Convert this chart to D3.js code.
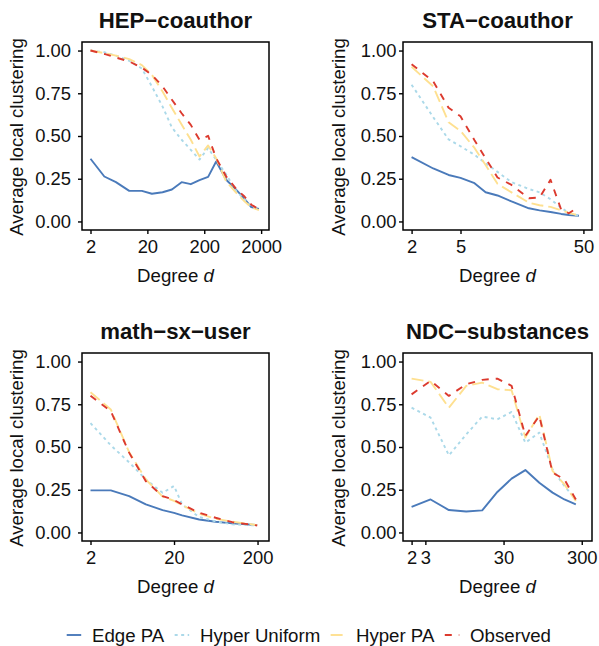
<!DOCTYPE html>
<html>
<head>
<meta charset="utf-8">
<script src="https://cdn.jsdelivr.net/npm/d3@7"></script>
<style>
  body { margin: 0; background: #fff; }
  text { font-family: "Liberation Sans", Arial, sans-serif; fill: #111; }
</style>
</head>
<body>
<div id="vis"></div>
<script>
var panelTitles = ["HEP\u2212coauthor", "STA\u2212coauthor", "math\u2212sx\u2212user", "NDC\u2212substances"];
var seriesNames = ["Edge PA", "Hyper Uniform", "Hyper PA", "Observed"];
var yTicks = [0, 0.25, 0.5, 0.75, 1];

// HEP-coauthor
var hepDegree = [2, 3.5, 5.6, 9.6, 16, 24, 37, 54, 80, 116, 165, 234, 324, 487, 731, 1020, 1342, 1830];
var hepEdgePA = [0.367, 0.263, 0.230, 0.179, 0.179, 0.162, 0.171, 0.187, 0.230, 0.218, 0.242, 0.261, 0.351, 0.244, 0.185, 0.133, 0.084, 0.074];
var hepHyperUniform = [1.0, 0.99, 0.97, 0.94, 0.895, 0.79, 0.672, 0.55, 0.478, 0.419, 0.362, 0.43, 0.36, 0.275, 0.177, 0.13, 0.088, 0.068];
var hepHyperPA = [1.0, 0.985, 0.97, 0.95, 0.915, 0.858, 0.76, 0.664, 0.567, 0.478, 0.38, 0.445, 0.37, 0.234, 0.167, 0.118, 0.083, 0.066];
var hepObserved = [1.0, 0.98, 0.959, 0.936, 0.90, 0.858, 0.79, 0.712, 0.633, 0.565, 0.478, 0.501, 0.37, 0.263, 0.19, 0.146, 0.098, 0.072];
var hepXlim = [2, 1950];
var hepXTicks = [2, 20, 200, 2000];

// STA-coauthor
var staDegree = [2, 3, 4, 5, 6.5, 8, 10, 13, 18, 22, 27, 33, 38, 46];
var staEdgePA = [0.376, 0.31, 0.272, 0.255, 0.224, 0.171, 0.152, 0.117, 0.077, 0.065, 0.055, 0.044, 0.038, 0.033];
var staHyperUniform = [0.80, 0.61, 0.48, 0.44, 0.39, 0.34, 0.29, 0.23, 0.19, 0.17, 0.13, 0.08, 0.05, 0.033];
var staHyperPA = [0.905, 0.79, 0.58, 0.53, 0.43, 0.33, 0.22, 0.17, 0.11, 0.095, 0.085, 0.065, 0.05, 0.035];
var staObserved = [0.92, 0.82, 0.665, 0.615, 0.475, 0.37, 0.257, 0.214, 0.136, 0.14, 0.244, 0.068, 0.048, 0.085];
var staXlim = [2, 50];
var staXTicks = [2, 5, 50];

// math-sx-user
var mathDegree = [2, 3.5, 5.8, 9.2, 14.6, 20, 25, 40, 63, 100, 198];
var mathEdgePA = [0.246, 0.246, 0.213, 0.164, 0.131, 0.115, 0.10, 0.076, 0.063, 0.053, 0.043];
var mathHyperUniform = [0.64, 0.51, 0.41, 0.31, 0.232, 0.272, 0.164, 0.09, 0.065, 0.047, 0.041];
var mathHyperPA = [0.82, 0.72, 0.47, 0.31, 0.21, 0.185, 0.16, 0.11, 0.08, 0.063, 0.043];
var mathObserved = [0.80, 0.71, 0.467, 0.30, 0.213, 0.19, 0.164, 0.115, 0.086, 0.06, 0.041];
var mathXlim = [2, 217];
var mathXTicks = [2, 20, 200];

// NDC-substances
var ndcDegree = [2, 3.5, 6, 10, 16, 25, 38, 57, 86, 127, 180, 252];
var ndcEdgePA = [0.149, 0.193, 0.131, 0.123, 0.129, 0.237, 0.315, 0.365, 0.291, 0.233, 0.193, 0.164];
var ndcHyperUniform = [0.73, 0.672, 0.451, 0.574, 0.678, 0.662, 0.705, 0.525, 0.584, 0.369, 0.272, 0.193];
var ndcHyperPA = [0.90, 0.881, 0.73, 0.858, 0.877, 0.838, 0.832, 0.555, 0.691, 0.36, 0.281, 0.184];
var ndcObserved = [0.808, 0.887, 0.799, 0.867, 0.893, 0.90, 0.858, 0.565, 0.682, 0.35, 0.31, 0.193];
var ndcXlim = [2, 315];
var ndcXTicks = [2, 3, 30, 300];

var width = 599, height = 646;

var colors = ["#4a7aba", "#abd9e9", "#fee090", "#dc3a2e"];
var dashes = [null, "3,3.5", "12,5", "7,7"];

// panel boxes [x0, x1] per column, [y0, y1] per row
var colX = [[82, 269], [403, 592]];
var rowY = [[42, 230], [353, 541]];

var panels = [
  {title: panelTitles[0], degree: hepDegree, series: [hepEdgePA, hepHyperUniform, hepHyperPA, hepObserved], xlim: hepXlim, xticks: hepXTicks, col: 0, row: 0},
  {title: panelTitles[1], degree: staDegree, series: [staEdgePA, staHyperUniform, staHyperPA, staObserved], xlim: staXlim, xticks: staXTicks, col: 1, row: 0},
  {title: panelTitles[2], degree: mathDegree, series: [mathEdgePA, mathHyperUniform, mathHyperPA, mathObserved], xlim: mathXlim, xticks: mathXTicks, col: 0, row: 1},
  {title: panelTitles[3], degree: ndcDegree, series: [ndcEdgePA, ndcHyperUniform, ndcHyperPA, ndcObserved], xlim: ndcXlim, xticks: ndcXTicks, col: 1, row: 1}
];

var svg = d3.select("div#vis").append("svg")
    .attr("width", width)
    .attr("height", height);

panels.forEach(function(p) {
  var x0 = colX[p.col][0], x1 = colX[p.col][1];
  var y0 = rowY[p.row][0], y1 = rowY[p.row][1];

  // ggplot style 5% expansion, in log space for x
  var lo = Math.log10(p.xlim[0]), hi = Math.log10(p.xlim[1]), pad = (hi - lo) * 0.05;
  var x = d3.scaleLog()
      .domain([Math.pow(10, lo - pad), Math.pow(10, hi + pad)])
      .range([x0, x1]);
  var y = d3.scaleLinear()
      .domain([-0.05, 1.05])
      .range([y1, y0]);

  var g = svg.append("g").attr("class", "panel");

  var line = d3.line()
      .x(function(d, i) { return x(p.degree[i]); })
      .y(function(d) { return y(d); });

  p.series.forEach(function(s, k) {
    g.append("path")
        .datum(s)
        .attr("d", line)
        .attr("fill", "none")
        .attr("stroke", colors[k])
        .attr("stroke-width", 1.9)
        .attr("stroke-linejoin", "round")
        .attr("stroke-dasharray", dashes[k]);
  });

  // panel border
  g.append("rect")
      .attr("x", x0)
      .attr("y", y0)
      .attr("width", x1 - x0)
      .attr("height", y1 - y0)
      .attr("fill", "none")
      .attr("stroke", "#000")
      .attr("stroke-width", 1.5);

  var xAxis = d3.axisBottom(x)
      .tickValues(p.xticks)
      .tickFormat(d3.format("d"))
      .tickSize(4)
      .tickPadding(5.8);
  var gx = g.append("g")
      .attr("transform", "translate(0," + y1 + ")")
      .call(xAxis);

  var yAxis = d3.axisLeft(y)
      .tickValues(yTicks)
      .tickFormat(d3.format(".2f"))
      .tickSize(4)
      .tickPadding(p.col == 0 ? 7 : 2.5);
  var gy = g.append("g")
      .attr("transform", "translate(" + x0 + ",0)")
      .call(yAxis);

  [gx, gy].forEach(function(a) {
    a.select(".domain").remove();
    a.selectAll(".tick line").attr("stroke", "#000").attr("stroke-width", 1.4);
    a.selectAll(".tick text")
        .attr("font-size", "18.4px")
        .attr("font-family", "Liberation Sans, Arial, sans-serif")
        .attr("fill", "#111");
  });

  // title
  g.append("text")
      .attr("x", (x0 + x1) / 2)
      .attr("y", y0 - 14)
      .attr("text-anchor", "middle")
      .attr("font-size", "22.2px")
      .attr("font-weight", "bold")
      .text(p.title);

  // x label
  var xl = g.append("text")
      .attr("x", (x0 + x1) / 2)
      .attr("y", y1 + 51.5)
      .attr("text-anchor", "middle")
      .attr("font-size", "18.67px");
  xl.append("tspan").text("Degree ");
  xl.append("tspan").attr("font-style", "italic").text("d");

  // y label
  g.append("text")
      .attr("transform", "translate(" + (p.col == 0 ? 23 : 345) + "," + ((y0 + y1) / 2 + 1) + ") rotate(-90)")
      .attr("text-anchor", "middle")
      .attr("font-size", "18.67px")
      .text("Average local clustering");
});

// legend along the bottom
var legend = svg.append("g").attr("class", "legend");
var lx = 66.7, ly = 635;
seriesNames.forEach(function(name, k) {
  legend.append("line")
      .attr("x1", lx)
      .attr("x2", lx + 14.5)
      .attr("y1", ly)
      .attr("y2", ly)
      .attr("stroke", colors[k])
      .attr("stroke-width", 1.9)
      .attr("stroke-dasharray", dashes[k]);
  var t = legend.append("text")
      .attr("x", lx + 25.3)
      .attr("y", ly + 6.6)
      .attr("font-size", "18.67px")
      .text(name);
  lx = lx + 25.3 + t.node().getComputedTextLength() + 10.4;
});
</script>
</body>
</html>
